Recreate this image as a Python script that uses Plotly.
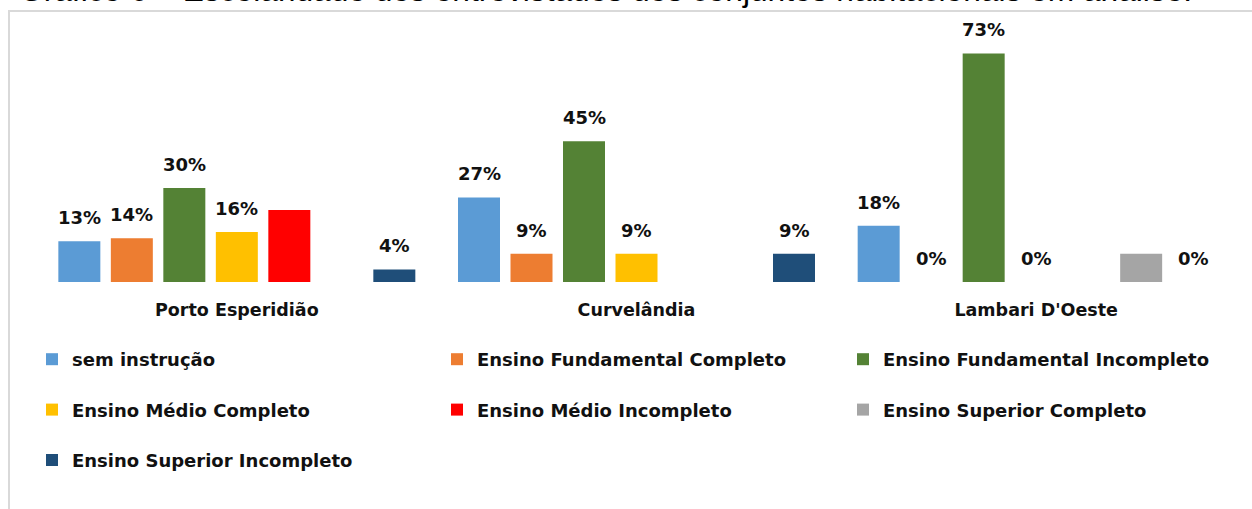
import plotly.graph_objects as go

# Conjuntos habitacionais (categorias do eixo x)
categorias = ["Porto Esperidião", "Curvelândia", "Lambari D'Oeste"]

# Níveis de escolaridade (séries)
series = [
    "sem instrução",
    "Ensino Fundamental Completo",
    "Ensino Fundamental Incompleto",
    "Ensino Médio Completo",
    "Ensino Médio Incompleto",
    "Ensino Superior Completo",
    "Ensino Superior Incompleto",
]

# Percentuais por série (uma lista por série, na ordem das categorias)
sem_instrucao = [13, 27, 18]
fund_completo = [14, 9, 0]
fund_incompleto = [30, 45, 73]
medio_completo = [16, 9, 0]
medio_incompleto = [23, None, None]
superior_completo = [None, None, 9]
superior_incompleto = [4, 9, 0]

# Quais barras exibem rótulo de valor
rotulos_visiveis = [
    [True, True, True],
    [True, True, True],
    [True, True, True],
    [True, True, True],
    [False, False, False],
    [False, False, False],
    [True, True, True],
]

valores = [sem_instrucao, fund_completo, fund_incompleto, medio_completo,
           medio_incompleto, superior_completo, superior_incompleto]

cores = ["#5B9BD5", "#ED7D31", "#548235", "#FFC000", "#FF0000", "#A5A5A5", "#1F4E79"]

# Distribuição das séries nas três colunas da legenda
legenda_de = ["legend", "legend2", "legend3", "legend", "legend2", "legend3", "legend"]

FONTE = "DejaVu Sans"
W, H = 1252, 509
ML, MR, MT, MB = 37, 16, 20, 227
PW, PH = W - ML - MR, H - MT - MB
BARGAP = 0.0805
GROUPGAP = 0.2
Y_MAX = 83.7


def px_x(px):
    """Converte coordenada horizontal em pixels para fração do papel."""
    return (px - ML) / PW


def px_y(px):
    """Converte coordenada vertical em pixels (a partir do topo) para fração do papel."""
    return (H - MB - px) / PH


fig = go.Figure()
for i, (nome, vals, cor) in enumerate(zip(series, valores, cores)):
    fig.add_trace(go.Bar(
        name=nome,
        x=categorias,
        y=vals,
        marker=dict(color=cor, line=dict(width=0)),
        legend=legenda_de[i],
        legendgroup=nome,
        hovertemplate="%{x}<br>" + nome + ": %{y}%<extra></extra>",
    ))

# Rótulos de valor acima das barras
n = len(series)
slot = (1 - BARGAP) / n
anotacoes = []
for i, vals in enumerate(valores):
    for j, v in enumerate(vals):
        if v is None or not rotulos_visiveis[i][j]:
            continue
        anotacoes.append(dict(
            x=j + (i - (n - 1) / 2) * slot, xref="x",
            y=v, yref="y", yanchor="bottom", yshift=11,
            text=f"{v}%", showarrow=False,
            font=dict(family=FONTE, size=18, color="#111111", weight=700),
        ))

# Título do gráfico (parcialmente fora da área visível)
anotacoes.append(dict(
    x=px_x(17), xref="paper", xanchor="left",
    y=px_y(-10), yref="paper", yanchor="middle",
    text="Gráfico 6 – Escolaridade dos entrevistados dos conjuntos habitacionais em análise.",
    showarrow=False,
    font=dict(family="Liberation Sans", size=31.7, color="#000000"),
))

leg_comum = dict(
    orientation="v", yref="container", xref="container", yanchor="top",
    xanchor="left", bgcolor="rgba(0,0,0,0)", tracegroupgap=24,
    font=dict(family=FONTE, size=18, color="#111111", weight=700),
)

fig.update_layout(
    width=W, height=H,
    margin=dict(l=ML, r=MR, t=MT, b=MB, autoexpand=False),
    paper_bgcolor="white", plot_bgcolor="white",
    barmode="group", bargap=BARGAP, bargroupgap=GROUPGAP,
    showlegend=True,
    legend=dict(x=32 / W, y=1 - 341 / H, **leg_comum),
    legend2=dict(x=437 / W, y=1 - 341 / H, **leg_comum),
    legend3=dict(x=843 / W, y=1 - 341 / H, **leg_comum),
    xaxis=dict(
        showgrid=False, showline=False, zeroline=False, ticks="",
        ticklabelstandoff=15,
        tickfont=dict(family=FONTE, size=17.5, color="#111111", weight=700),
    ),
    yaxis=dict(range=[0, Y_MAX], visible=False, showgrid=False, zeroline=False),
    annotations=anotacoes,
    shapes=[dict(
        type="rect", xref="paper", yref="paper",
        x0=px_x(9), x1=1.1,
        y0=-1.2, y1=px_y(11),
        line=dict(color="#D9D9D9", width=2), fillcolor="rgba(0,0,0,0)",
        layer="below",
    )],
)

fig.write_html("out.html")
